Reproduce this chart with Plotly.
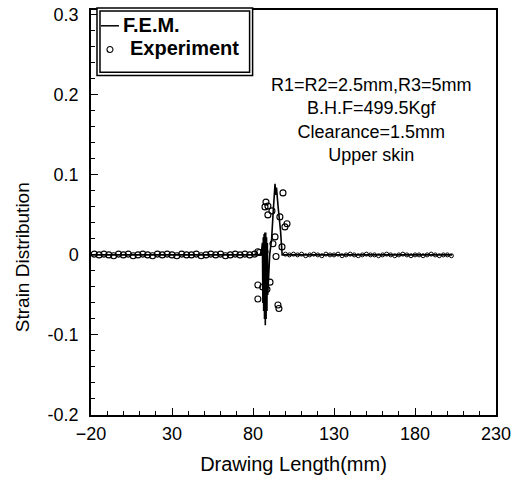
import plotly.graph_objects as go

# FEM curve (Drawing length mm, strain)
fem_x = [-20, 85.0, 85.8, 86.1, 86.35, 86.6, 86.85, 87.1, 87.35, 87.6, 87.85, 88.1, 88.35, 88.6, 88.85, 89.1,
         90.3, 91.5, 92.5, 93.2, 93.6, 94.0, 94.5, 95.5, 97.0, 98.0, 203]
fem_y = [0.0, 0.0, 0.015, -0.06, 0.022, -0.07, 0.026, -0.08, 0.028, -0.088, 0.028, -0.08, 0.022,
         -0.07, 0.015, -0.05, 0.0, 0.02, 0.055, 0.08, 0.089, 0.075, 0.084, 0.06, 0.03, 0.0, 0.0]

# Experiment, left flat region
exp_left_x = [-18, -15, -12, -9, -6, -3, 0, 3, 6, 9, 12, 15, 18, 21, 24, 27, 30, 33, 36, 39, 42, 45,
              48, 51, 54, 57, 60, 63, 66, 69, 72, 75, 78, 81, 84]
exp_left_y = [0.001, 0.0, 0.001, 0.0, -0.001, 0.001, 0.0, 0.001, -0.001, 0.0, 0.001, 0.0, -0.001, 0.001,
              0.0, 0.001, 0.0, -0.001, 0.001, 0.0, 0.0, 0.001, -0.001, 0.0, 0.001, 0.0, 0.001, -0.001,
              0.0, 0.001, 0.0, 0.001, 0.0, 0.001, 0.003]

# Experiment, around the die radius
exp_spike_x = [98.5, 88.0, 89.2, 87.4, 91.7, 89.2, 96.6, 101.0, 99.7, 93.6, 92.3, 97.9, 94.2, 87.4,
               83.0, 83.0, 86.0, 90.5, 88.6, 83.0, 95.4, 96.0]
exp_spike_y = [0.0775, 0.066, 0.061, 0.06, 0.055, 0.05, 0.0475, 0.039, 0.035, 0.0225, 0.014, 0.01,
               -0.002, 0.004, 0.004, -0.0375, -0.04, -0.034, -0.043, -0.055, -0.0625, -0.067]

# Experiment, right flat region
exp_right_x = [100, 102.5, 105, 107.5, 110, 112.5, 115, 117.5, 120, 122.5, 125, 127.5, 130, 132.5, 135,
               137.5, 140, 142.5, 145, 147.5, 150, 152.5, 155, 157.5, 160, 162.5, 165, 167.5, 170,
               172.5, 175, 177.5, 180, 182.5, 185, 187.5, 190, 192.5, 195, 197.5, 200, 202.5]
exp_right_y = [0.001, 0.0, 0.001, 0.0, 0.001, -0.001, 0.0, 0.001, 0.0, -0.001, 0.001, 0.0, 0.0, 0.001,
               -0.001, 0.0, 0.001, 0.0, -0.001, 0.0, 0.001, 0.0, 0.0, -0.001, 0.0, 0.001, 0.0, -0.001,
               0.0, 0.001, 0.0, -0.001, 0.0, 0.0, -0.001, 0.0, 0.001, 0.0, -0.001, 0.0, 0.0, -0.001]

x_ticks = [-20, 30, 80, 130, 180, 230]
y_ticks = [-0.2, -0.1, 0, 0.1, 0.2, 0.3]
y_tick_text = ["-0.2", "-0.1", "0", "0.1", "0.2", "0.3"]

legend_labels = ["F.E.M.", "Experiment"]
note_lines = ["R1=R2=2.5mm,R3=5mm", "B.H.F=499.5Kgf", "Clearance=1.5mm", "Upper skin"]
x_title = "Drawing Length(mm)"
y_title = "Strain Distribution"

FONT = "Liberation Sans, Arial, sans-serif"

fig = go.Figure()
fig.add_trace(go.Scatter(x=fem_x, y=fem_y, mode="lines", name=legend_labels[0], showlegend=False,
                         line=dict(color="black", width=1.6)))
fig.add_trace(go.Scatter(x=exp_left_x + exp_spike_x, y=exp_left_y + exp_spike_y, mode="markers",
                         name=legend_labels[1], showlegend=False,
                         marker=dict(symbol="circle-open", size=6, color="black", line=dict(width=1.1))))
fig.add_trace(go.Scatter(x=exp_right_x, y=exp_right_y, mode="markers", showlegend=False,
                         marker=dict(symbol="circle-open", size=4, color="black", line=dict(width=1))))

fig.add_annotation(x=0.693, y=0.845, xref="paper", yref="paper", xanchor="center", yanchor="top",
                   text="<br>".join(note_lines), showarrow=False, align="center",
                   font=dict(family=FONT, size=18, color="black"))

axis_common = dict(showline=True, linecolor="black", linewidth=1.5, mirror=True, ticks="inside",
                   ticklen=7, tickwidth=1.2, tickcolor="black", showgrid=False, zeroline=False,
                   tickfont=dict(family=FONT, size=18, color="black"))

fig.update_xaxes(range=[-20, 230], tickvals=x_ticks, ticklabelstandoff=2,
                 title=dict(text=x_title, font=dict(family=FONT, size=20, color="black"), standoff=14),
                 minor=dict(ticks="inside", ticklen=4, tickcolor="black", dtick=10, tick0=-20),
                 **axis_common)
fig.update_yaxes(range=[-0.2, 0.306], tickvals=y_ticks, ticktext=y_tick_text, ticklabelstandoff=7,
                 minor=dict(ticks="inside", ticklen=4, tickcolor="black", dtick=0.02, tick0=-0.2),
                 **axis_common)

# y-axis title (placed beside the zero line as in the original)
fig.add_annotation(x=-0.17, y=0.39, xref="paper", yref="paper", xanchor="center", yanchor="middle",
                   text=y_title, textangle=-90, showarrow=False,
                   font=dict(family=FONT, size=19, color="black"))

# legend box: double frame
fig.add_shape(type="rect", xref="paper", yref="paper", x0=0.0148, x1=0.399, y0=0.838, y1=1.0049,
              line=dict(color="black", width=1.5), fillcolor="white", layer="above")
fig.add_shape(type="rect", xref="paper", yref="paper", x0=0.0222, x1=0.3916, y0=0.846, y1=0.9976,
              line=dict(color="black", width=1.5), fillcolor="rgba(0,0,0,0)", layer="above")
# legend symbols
fig.add_shape(type="line", xref="paper", yref="paper", x0=0.0246, x1=0.069, y0=0.961, y1=0.961,
              line=dict(color="black", width=1.5), layer="above")
fig.add_shape(type="circle", xref="paper", yref="paper", x0=0.0394, x1=0.0542, y0=0.8951, y1=0.9097,
              line=dict(color="black", width=1.1), fillcolor="white", layer="above")
# legend labels
fig.add_annotation(x=0.0739, y=0.963, xref="paper", yref="paper", xanchor="left", yanchor="middle",
                   text="<b>" + legend_labels[0] + "</b>", showarrow=False,
                   font=dict(family=FONT, size=20, color="black"))
fig.add_annotation(x=0.0911, y=0.905, xref="paper", yref="paper", xanchor="left", yanchor="middle",
                   text="<b>" + legend_labels[1] + "</b>", showarrow=False,
                   font=dict(family=FONT, size=20, color="black"))

fig.update_layout(
    width=516, height=484,
    margin=dict(l=91, r=19, t=5, b=69),
    plot_bgcolor="white", paper_bgcolor="white",
    font=dict(family=FONT, size=16, color="black"),
    showlegend=False,
)

fig.write_html("out.html", config={"displayModeBar": False},
               post_script="document.body.style.margin='0';")
